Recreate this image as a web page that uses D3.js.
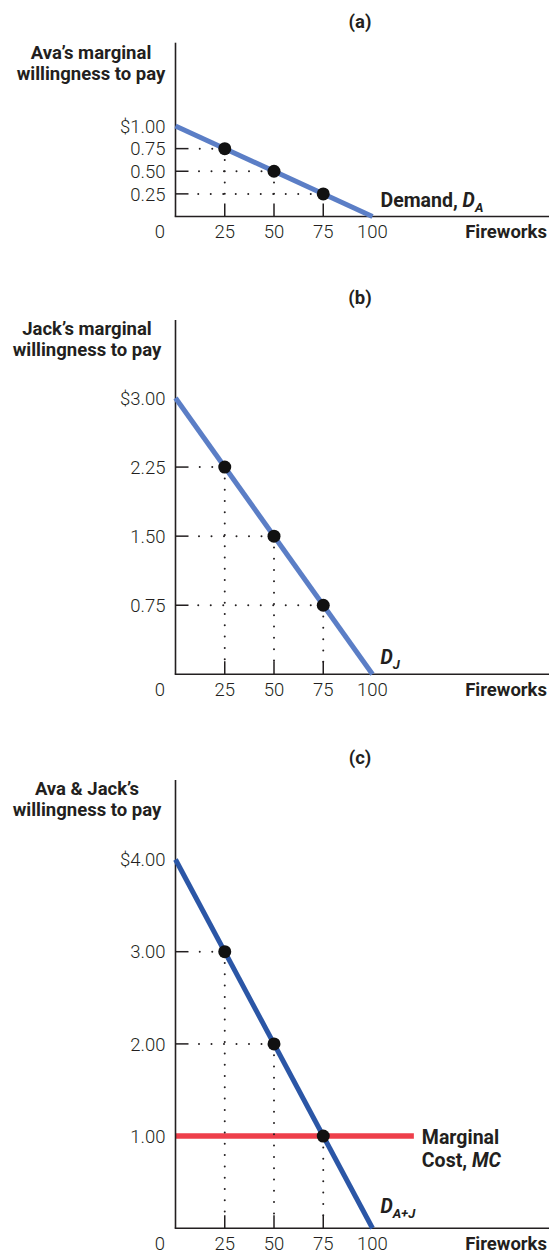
<!DOCTYPE html>
<html><head><meta charset="utf-8">
<script src="https://cdn.jsdelivr.net/npm/d3@7"></script>
<style>
body{margin:0;background:#fff}
svg{display:block}
.bold{font-family:Roboto,"Liberation Sans",Arial,sans-serif;font-weight:700;fill:#231f20}
.tick{font-family:Roboto,"Liberation Sans",Arial,sans-serif;font-weight:300;fill:#231f20}
</style>
</head><body>
<script>
// ---------- data ----------
const fireworksTickValues = [0, 25, 50, 75, 100];
const fireworksTickLabels = ["0", "25", "50", "75", "100"];
const quantities = [25, 50, 75];

const avaWTP = [0.75, 0.50, 0.25];
const jackWTP = [2.25, 1.50, 0.75];
const totalWTP = [3.00, 2.00, 1.00];

const avaDemandEnds = [[0, 1.00], [100, 0]];
const jackDemandEnds = [[0, 3.00], [100, 0]];
const totalDemandEnds = [[0, 4.00], [100, 0]];

const avaTickValues = [1.00, 0.75, 0.50, 0.25];
const avaTickLabels = ["$1.00", "0.75", "0.50", "0.25"];
const jackTickValues = [3.00, 2.25, 1.50, 0.75];
const jackTickLabels = ["$3.00", "2.25", "1.50", "0.75"];
const totalTickValues = [4.00, 3.00, 2.00, 1.00];
const totalTickLabels = ["$4.00", "3.00", "2.00", "1.00"];

const marginalCost = 1.00;
const marginalCostRange = [0, 121];

const panelLabels = ["(a)", "(b)", "(c)"];
const yTitles = [["Ava\u2019s marginal", "willingness to pay"],
                 ["Jack\u2019s marginal", "willingness to pay"],
                 ["Ava & Jack\u2019s", "willingness to pay"]];
const xTitle = "Fireworks";

// ---------- layout / style ----------
const W = 549, H = 1254;
const axisX = 175.5;
const layouts = [
  {baseline: 216.5, topTickY: 126, axisTop: 42.7, titleX: 91, titleY: 59, color: "#5b7ec6", lblDy: 10},
  {baseline: 674.3, topTickY: 398, axisTop: 320, titleX: 87, titleY: 335, color: "#5b7ec6", lblDy: 10.5},
  {baseline: 1228.3, topTickY: 859.5, axisTop: 780, titleX: 87, titleY: 795, color: "#2b56a6", lblDy: 15}
];
const ink = "#231f20";

const panels = [
  {wtp: avaWTP, ends: avaDemandEnds, ticks: avaTickValues, tickLabels: avaTickLabels,
   demandLabel: [{t: "Demand, ", italic: false}, {t: "D", italic: true}], sub: "A"},
  {wtp: jackWTP, ends: jackDemandEnds, ticks: jackTickValues, tickLabels: jackTickLabels,
   demandLabel: [{t: "D", italic: true}], sub: "J"},
  {wtp: totalWTP, ends: totalDemandEnds, ticks: totalTickValues, tickLabels: totalTickLabels,
   demandLabel: [{t: "D", italic: true}], sub: "A+J", mc: marginalCost}
];

const svg = d3.select("body").append("svg").attr("width", W).attr("height", H);
const x = d3.scaleLinear().domain([0, 100]).range([axisX, axisX + 197]);

panels.forEach((p, i) => {
  const L = layouts[i];
  const y = d3.scaleLinear().domain([0, p.ticks[0]]).range([L.baseline, L.topTickY]);
  const g = svg.append("g");

  // panel label
  g.append("text").attr("class", "bold").attr("x", 360).attr("y", L.titleY - 31)
    .attr("text-anchor", "middle").attr("font-size", 18.5).text(panelLabels[i]);

  // y title
  yTitles[i].forEach((line, k) => {
    g.append("text").attr("class", "bold").attr("x", L.titleX).attr("y", L.titleY + k * 21)
      .attr("text-anchor", "middle").attr("font-size", 18.5).text(line);
  });

  // horizontal dotted guides and y ticks
  p.wtp.forEach((v, k) => {
    const q = quantities[k];
    g.append("line").attr("x1", x(q)).attr("y1", y(v)).attr("x2", axisX + 14).attr("y2", y(v))
      .attr("stroke", ink).attr("stroke-width", 2).attr("stroke-linecap", "round")
      .attr("stroke-dasharray", "0,12.5");
    g.append("line").attr("x1", axisX).attr("x2", axisX + 13).attr("y1", y(v)).attr("y2", y(v))
      .attr("stroke", ink).attr("stroke-width", 1.5);
  });

  // MC line
  if (p.mc !== undefined) {
    g.append("line").attr("x1", x(marginalCostRange[0])).attr("x2", x(marginalCostRange[1]))
      .attr("y1", y(p.mc)).attr("y2", y(p.mc))
      .attr("stroke", "#ee3f4b").attr("stroke-width", 5.5);
  }

  // vertical dotted guides and x ticks
  p.wtp.forEach((v, k) => {
    const q = quantities[k];
    g.append("line").attr("x1", x(q)).attr("y1", y(v)).attr("x2", x(q)).attr("y2", L.baseline - 12)
      .attr("stroke", ink).attr("stroke-width", 2).attr("stroke-linecap", "round")
      .attr("stroke-dasharray", "0,11.3");
    g.append("line").attr("x1", x(q)).attr("x2", x(q)).attr("y1", L.baseline).attr("y2", L.baseline - 13)
      .attr("stroke", ink).attr("stroke-width", 1.5);
  });

  // axes
  g.append("line").attr("x1", axisX).attr("x2", axisX).attr("y1", L.axisTop).attr("y2", L.baseline)
    .attr("stroke", ink).attr("stroke-width", 1.6);
  g.append("line").attr("x1", axisX - 0.8).attr("x2", W).attr("y1", L.baseline).attr("y2", L.baseline)
    .attr("stroke", ink).attr("stroke-width", 1.6);

  // y tick labels
  p.ticks.forEach((v, k) => {
    g.append("text").attr("class", "tick").attr("x", axisX - 10).attr("y", y(v)).attr("dy", "0.36em")
      .attr("text-anchor", "end").attr("font-size", 18.5).text(p.tickLabels[k]);
  });

  // x tick labels
  fireworksTickValues.forEach((v, k) => {
    g.append("text").attr("class", "tick").attr("x", v === 0 ? x(0) - 15.5 : x(v))
      .attr("y", L.baseline + 21.5).attr("text-anchor", "middle").attr("font-size", 18.5)
      .text(fireworksTickLabels[k]);
  });
  g.append("text").attr("class", "bold").attr("x", W - 2).attr("y", L.baseline + 21.5)
    .attr("text-anchor", "end").attr("font-size", 18.5).text(xTitle);

  // demand line
  const line = d3.line().x(d => x(d[0])).y(d => y(d[1]));
  g.append("path").attr("d", line(p.ends)).attr("fill", "none")
    .attr("stroke", L.color).attr("stroke-width", 5);

  // points
  g.selectAll("circle.pt").data(p.wtp).enter().append("circle")
    .attr("cx", (v, k) => x(quantities[k])).attr("cy", v => y(v)).attr("r", 6.5).attr("fill", "#111");

  // demand label
  const t = g.append("text").attr("class", "bold").attr("x", x(p.ends[1][0]) + 8)
    .attr("y", L.baseline - L.lblDy).attr("font-size", 19.5);
  p.demandLabel.forEach(s => {
    t.append("tspan").attr("font-style", s.italic ? "italic" : "normal").text(s.t);
  });
  t.append("tspan").attr("font-style", "italic").attr("font-size", 13).attr("dy", 5).text(p.sub);

  // MC label
  if (p.mc !== undefined) {
    const lx = x(marginalCostRange[1]) + 8;
    g.append("text").attr("class", "bold").attr("x", lx).attr("y", y(p.mc) + 7.5)
      .attr("font-size", 19.5).text("Marginal");
    const t2 = g.append("text").attr("class", "bold").attr("x", lx).attr("y", y(p.mc) + 31)
      .attr("font-size", 19.5);
    t2.append("tspan").text("Cost, ");
    t2.append("tspan").attr("font-style", "italic").text("MC");
  }
});
</script>
</body></html>
